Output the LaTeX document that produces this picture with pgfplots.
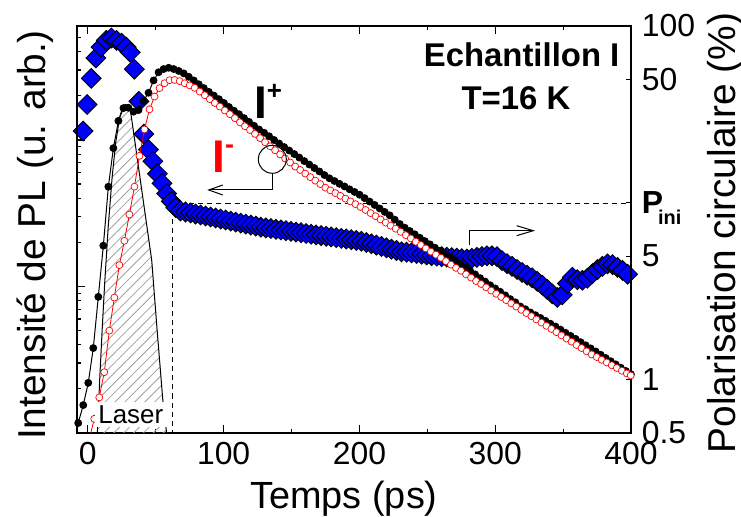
\documentclass[border=0pt]{standalone}
\usepackage{fontspec}
\setmainfont{Liberation Sans}
\usepackage{pgfplots}
\pgfplotsset{compat=1.18}
\usetikzlibrary{arrows.meta,patterns.meta}
\definecolor{pblue}{RGB}{0,0,255}
\definecolor{pred}{RGB}{255,0,0}

\pgfplotsset{
  frame/.style={scale only axis, width=277bp, height=203.5bp,
    at={(0,0)}, anchor=south west, xmin=-8, xmax=400,
    tick align=inside,
    axis line style={line width=0.8bp},
    every tick/.style={black, line width=0.6bp},
    /pgf/number format/assume math mode=true,
    tick label style={font=\fontsize{16}{16}\selectfont, inner sep=0pt}},
}

\begin{document}
\begin{tikzpicture}

% polarisation (right axis), drawn first so the intensities lie on top
\begin{axis}[frame,
  axis x line=none, axis y line*=right,
  ymode=log, ymin=0.5, ymax=100,
  ytick={0.5,1,5,10,50,100},
  yticklabels={0.5,1,5,{\textbf{P}\smash{\raisebox{-5.5bp}{\kern-2.5bp\fontsize{10}{10}\selectfont\bfseries ini}}},50,100},
  major tick length=2.5bp,
  yticklabel style={anchor=west, xshift=5.25bp},
]
\addplot[black, line width=0.5bp, dash pattern=on 2.6bp off 2bp] coordinates {(62,0.3) (62,9.9) (400,9.9)};
\addplot[only marks, mark=square*, mark size=3.5bp,
  mark options={rotate=45, fill=pblue, draw=black, line width=0.45bp}] coordinates {
(-3.5,25.5) (-0.5,36) (2.5,50.6) (5.9,66) (9.7,76) (13.6,83) (17.4,85.5) (21.1,83)
(24.8,80) (28.3,76) (31.2,71) (34.2,57) (37.6,37.5) (41.2,24.5) (44.6,20) (47.9,17.2)
(51.2,14.6) (54.6,12.9) (58.0,11.3) (61.4,10.2) (64.8,9.4) (68.2,9.0) (71.9,8.88) (75.6,8.77)
(79.3,8.65) (83.0,8.54) (86.7,8.43) (90.4,8.32) (94.1,8.21) (97.8,8.10) (101.5,8.0) (105.2,7.89)
(108.9,7.79) (112.6,7.69) (116.3,7.59) (120.0,7.49) (123.7,7.39) (127.4,7.29) (131.1,7.22) (134.8,7.16)
(138.5,7.09) (142.2,7.03) (145.9,6.96) (149.6,6.90) (153.3,6.84) (157.0,6.78) (160.7,6.71) (164.4,6.65)
(168.1,6.59) (171.8,6.53) (175.5,6.47) (179.2,6.42) (182.9,6.36) (186.6,6.30) (190.3,6.25) (194.0,6.19)
(197.7,6.13) (201.4,6.07) (205.1,5.97) (208.8,5.87) (212.5,5.77) (216.2,5.67) (219.9,5.57) (223.6,5.47)
(227.3,5.38) (231.0,5.29) (234.7,5.26) (238.4,5.22) (242.1,5.18) (245.8,5.13) (249.5,5.08) (253.2,5.03)
(256.9,5.0) (260.6,4.96) (264.3,4.93) (268.0,4.90) (271.7,4.87) (275.4,4.84) (279.1,4.81) (282.8,4.86)
(286.5,4.92) (290.2,4.97) (293.9,5.02) (297.6,5.02) (301.3,4.97) (305.0,4.72) (308.7,4.53) (312.4,4.38)
(316.1,4.2) (319.8,4.04) (323.5,3.9) (327.2,3.77) (330.9,3.6) (334.6,3.43) (338.3,3.24) (342.0,3.06)
(345.7,2.92) (349.4,3.02) (353.1,3.5) (356.8,3.8) (360.5,3.68) (364.2,3.65) (367.9,3.75) (371.6,3.98)
(375.3,4.2) (379.0,4.38) (382.7,4.52) (386.4,4.47) (390.1,4.32) (393.8,4.15) (397.5,3.95) (400.5,3.74)
};
\end{axis}

% PL intensity (left axis)
\begin{axis}[frame,
  ymode=log, ymin=1, ymax=600,
  ytick pos=left, yticklabel=\empty,
  xtick={0,100,200,300,400}, minor x tick num=1,
  major tick length=4bp, minor tick length=2.2bp,
  xticklabel style={anchor=north, yshift=-4.35bp},
]
% laser pulse
\addplot[draw=black, line width=0.5bp, pattern={Lines[angle=45,distance=3.5bp,line width=0.4bp]},
  pattern color=gray!75] coordinates {
(6,0.8) (7,1) (8.8,2.4) (10.5,5.0) (12.3,10.2) (15,25.6) (17.9,56) (20.5,96) (23.5,144)
(26,170) (27.5,175) (29,173) (31,168) (35,92.5) (39,50.5) (43,27.7) (47,15.2) (51,5.05)
(55.2,1.68) (58,1) (59,0.8)
} -- cycle;
% I+
\addplot[black, line width=0.5bp, mark=*, mark size=1.7bp, mark options={fill=black}] coordinates {
(-7.1,1.17) (-3.4,1.55) (0.3,2.2) (4.0,3.8) (7.7,8.5) (11.4,19) (15.1,48) (18.8,88) (22.5,135)
(26.2,165) (29.9,166) (33.6,156) (37.3,160) (41.0,185) (44.7,210) (48.4,255) (52.1,290) (55.8,305)
(59.5,311) (63.2,305) (66.9,296) (70.6,285) (74.3,270) (78.0,255) (81.7,240) (85.4,226) (89.1,213)
(92.8,201) (96.5,190) (100.2,179) (103.9,168) (107.6,158.5) (111.3,150) (115.0,141) (118.7,133)
(122.4,125) (126.1,118) (129.8,112) (133.5,106) (137.2,100) (140.9,94.6) (144.6,89.5) (148.3,84.7)
(152.0,80.2) (155.7,75.9) (159.4,71.8) (163.1,68.0) (166.8,64.4) (170.5,61.0) (174.2,57.7) (177.9,54.8)
(181.6,52.5) (185.3,50.2) (189.0,48.2) (192.7,46.1) (196.4,44.2) (200.1,42.3) (203.8,40.1) (207.5,38.0)
(211.2,36.0) (214.9,34.1) (218.6,32.3) (222.3,30.6) (226.0,28.6) (229.7,26.7) (233.4,25.2) (237.1,23.9)
(240.8,22.7) (244.5,21.5) (248.2,20.4) (251.9,19.4) (255.6,18.4) (259.3,17.5) (263.0,16.7) (266.7,16.0)
(270.4,15.1) (274.1,14.3) (277.8,13.5) (281.5,12.8) (285.2,12.1) (288.9,11.4) (292.6,10.8) (296.3,10.2)
(300.0,9.7) (303.7,9.2) (307.4,8.7) (311.1,8.2) (314.8,7.8) (318.5,7.3) (322.2,7.0) (325.9,6.65)
(329.6,6.37) (333.3,6.10) (337.0,5.83) (340.7,5.57) (344.4,5.33) (348.1,5.08) (351.8,4.83) (355.5,4.60)
(359.2,4.39) (362.9,4.17) (366.6,3.97) (370.3,3.78) (374.0,3.60) (377.7,3.42) (381.4,3.25) (385.1,3.09)
(388.8,2.94) (392.5,2.79) (396.2,2.65) (399.9,2.52)
};
% I-
\addplot[pred, line width=0.4bp, mark=*, mark size=1.75bp,
  mark options={fill=white, draw=pred, line width=0.35bp}] coordinates {
(1.0,0.9) (4.7,1.25) (8.4,1.75) (12.1,2.6) (15.8,5.0) (19.5,8.4) (23.2,14) (26.9,20.5) (30.6,31)
(34.3,48) (38.0,78) (41.7,118) (45.4,162) (49.1,198) (52.8,226) (56.5,244) (60.2,256) (63.9,257)
(67.6,252) (71.3,244) (75.0,236) (78.7,227) (82.4,214) (86.1,202) (89.8,190) (93.5,179) (97.2,169)
(100.9,159) (104.6,150) (108.3,141) (112.0,132) (115.7,124) (119.4,117) (123.1,110) (126.8,103)
(130.5,96.6) (134.2,90.6) (137.9,85.1) (141.6,79.8) (145.3,74.8) (149.0,70.2) (152.7,65.9) (156.4,62.4)
(160.1,59.0) (163.8,55.8) (167.5,52.8) (171.2,50.0) (174.9,47.3) (178.6,45.3) (182.3,43.4) (186.0,41.6)
(189.7,39.8) (193.4,38.1) (197.1,36.5) (200.8,34.9) (204.5,33.3) (208.2,31.7) (211.9,30.2) (215.6,28.7)
(219.3,27.3) (223.0,26.0) (226.7,24.8) (230.4,23.6) (234.1,22.4) (237.8,21.3) (241.5,20.2) (245.2,19.2)
(248.9,18.2) (252.6,17.3) (256.3,16.5) (260.0,15.7) (263.7,14.9) (267.4,14.1) (271.1,13.4) (274.8,12.8)
(278.5,12.1) (282.2,11.5) (285.9,10.9) (289.6,10.4) (293.3,9.86) (297.0,9.38) (300.7,8.92) (304.4,8.49)
(308.1,8.07) (311.8,7.67) (315.5,7.30) (319.2,6.93) (322.9,6.59) (326.6,6.27) (330.3,5.96) (334.0,5.67)
(337.7,5.39) (341.4,5.13) (345.1,4.88) (348.8,4.64) (352.5,4.41) (356.2,4.20) (359.9,3.99) (363.6,3.80)
(367.3,3.61) (371.0,3.44) (374.7,3.30) (378.4,3.16) (382.1,3.03) (385.8,2.90) (389.5,2.78) (393.2,2.66)
(396.9,2.55) (399.8,2.47)
};
\end{axis}

% labels and annotations (1 px of the reference = 0.5 bp, origin at the axis corner)
\node[fill=white, inner sep=0pt, minimum width=36bp, minimum height=12.5bp] at (27bp,9.4bp) {};
\node[anchor=base, inner sep=0pt, font=\fontsize{13}{13}\selectfont] at (26.9bp,4.85bp) {Laser};

\node[anchor=base west, inner sep=0pt, font=\fontsize{23}{23}\selectfont\bfseries]
  at (88.4bp,157.4bp) {I\raisebox{9.3bp}{\fontsize{13}{13}\selectfont +}};
\node[anchor=base west, inner sep=0pt, text=pred, font=\fontsize{23}{23}\selectfont\bfseries]
  at (67.5bp,130.4bp) {I\raisebox{9.4bp}{\fontsize{13.5}{13.5}\selectfont -}};

\node[anchor=base, inner sep=0pt, font=\fontsize{16.5}{16.5}\selectfont\bfseries] at (222.3bp,183.2bp) {Echantillon I};
\node[anchor=base, inner sep=0pt, font=\fontsize{16.5}{16.5}\selectfont\bfseries] at (219.5bp,161.5bp) {T=16 K};

\draw[line width=0.5bp] (97.65bp,136.85bp) circle[radius=7bp];
\draw[line width=0.5bp, -{Straight Barb[length=7bp, width=5bp]}]
  (97.65bp,129.85bp) -- (97.65bp,121.5bp) -- (65.15bp,121.5bp);
\draw[line width=0.5bp, -{Straight Barb[length=8.3bp, width=5bp]}]
  (196.15bp,94bp) -- (196.15bp,101.15bp) -- (229bp,101.15bp);

\node[anchor=base, inner sep=0pt, font=\fontsize{19}{19}\selectfont] at (133.5bp,-37.8bp) {Temps (ps)};
\node[rotate=90, anchor=base, inner sep=0pt, font=\fontsize{19.5}{19.5}\selectfont] at (-16bp,99bp) {Intensité de PL (u. arb.)};
\node[rotate=90, anchor=base, inner sep=0pt, font=\fontsize{19.5}{19.5}\selectfont] at (329bp,100bp) {Polarisation circulaire (\%)};

\pgfresetboundingbox
\path[use as bounding box] (-38.5bp,-42bp) rectangle (332bp,216.5bp);
\end{tikzpicture}
\end{document}
